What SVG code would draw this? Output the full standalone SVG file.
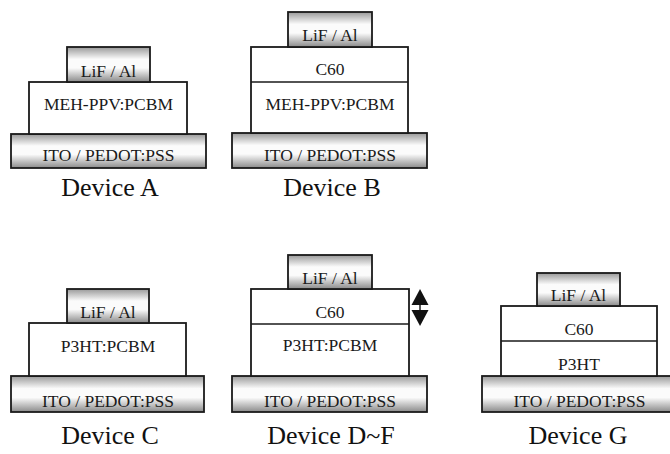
<svg xmlns="http://www.w3.org/2000/svg" width="670" height="454" viewBox="0 0 670 454">
  <defs>
    <!-- shaded "metal / electrode" look used for contacts -->
    <linearGradient id="metal" x1="0" y1="0" x2="0" y2="1">
      <stop offset="0" stop-color="#999999"/>
      <stop offset="0.35" stop-color="#fbfbfb"/>
      <stop offset="0.6" stop-color="#fbfbfb"/>
      <stop offset="1" stop-color="#8a8a8a"/>
    </linearGradient>
  </defs>
  <style>
    .metal { fill: url(#metal); stroke: #1a1a1a; stroke-width: 1.8; }
    .layer { fill: #ffffff; stroke: #1a1a1a; stroke-width: 1.8; }
    .div { stroke: #1a1a1a; stroke-width: 1.4; }
    text { font-family: "Liberation Serif", "DejaVu Serif", "Times New Roman", Times, serif; }
    .t { font-size: 17.5px; fill: #1a1a1a; text-anchor: middle; }
    .cap { font-size: 26px; fill: #111; text-anchor: middle; }
  </style>
  <rect width="670" height="454" fill="#ffffff"/>

  <!-- Device A -->
  <g id="device-a">
    <rect class="metal" x="11" y="134" width="195" height="34"/>
    <rect class="layer" x="29" y="82" width="158" height="52"/>
    <rect class="metal" x="67" y="47" width="83" height="35"/>
    <text class="t" x="108.5" y="76.5">LiF / Al</text>
    <text class="t" x="108.5" y="110">MEH-PPV:PCBM</text>
    <text class="t" x="108.5" y="161">ITO / PEDOT:PSS</text>
    <text class="cap" x="110" y="196">Device A</text>
  </g>

  <!-- Device B -->
  <g id="device-b">
    <rect class="metal" x="232" y="133" width="195" height="35"/>
    <rect class="layer" x="251" y="47" width="157" height="86"/>
    <line class="div" x1="251" y1="82" x2="408" y2="82"/>
    <rect class="metal" x="288" y="12" width="84" height="35"/>
    <text class="t" x="330" y="41">LiF / Al</text>
    <text class="t" x="330" y="75">C60</text>
    <text class="t" x="330" y="110">MEH-PPV:PCBM</text>
    <text class="t" x="330" y="161">ITO / PEDOT:PSS</text>
    <text class="cap" x="332" y="196">Device B</text>
  </g>

  <!-- Device C -->
  <g id="device-c">
    <rect class="metal" x="11" y="376" width="193" height="36"/>
    <rect class="layer" x="29" y="323" width="157" height="53"/>
    <rect class="metal" x="67" y="289" width="82" height="34"/>
    <text class="t" x="108" y="318">LiF / Al</text>
    <text class="t" x="108" y="352">P3HT:PCBM</text>
    <text class="t" x="108" y="407">ITO / PEDOT:PSS</text>
    <text class="cap" x="110" y="444">Device C</text>
  </g>

  <!-- Device D~F -->
  <g id="device-d-f">
    <rect class="metal" x="232" y="376" width="195" height="36"/>
    <rect class="layer" x="251" y="289" width="158" height="87"/>
    <line class="div" x1="251" y1="324" x2="409" y2="324"/>
    <rect class="metal" x="288" y="255" width="84" height="34"/>
    <text class="t" x="330" y="284">LiF / Al</text>
    <text class="t" x="330" y="318">C60</text>
    <text class="t" x="330" y="351">P3HT:PCBM</text>
    <text class="t" x="330" y="407">ITO / PEDOT:PSS</text>
    <text class="cap" x="331" y="444">Device D~F</text>
  </g>

  <!-- Device G -->
  <g id="device-g">
    <rect class="metal" x="482" y="376" width="195" height="36"/>
    <rect class="layer" x="501" y="306" width="156" height="70"/>
    <line class="div" x1="501" y1="341" x2="657" y2="341"/>
    <rect class="metal" x="537" y="273" width="83" height="33"/>
    <text class="t" x="578.5" y="301">LiF / Al</text>
    <text class="t" x="579" y="335">C60</text>
    <text class="t" x="579" y="370">P3HT</text>
    <text class="t" x="579.5" y="407">ITO / PEDOT:PSS</text>
    <text class="cap" x="578" y="444">Device G</text>
  </g>

  <!-- C60 thickness indicator (varied across devices D~F) -->
  <g id="connectors">
    <g id="thickness-arrow" fill="#111" stroke="none">
      <polygon points="420,289 428.5,305 411.5,305"/>
      <rect x="419.3" y="304" width="1.4" height="7"/>
      <polygon points="411.5,310 428.5,310 420,326"/>
    </g>
  </g>
</svg>
